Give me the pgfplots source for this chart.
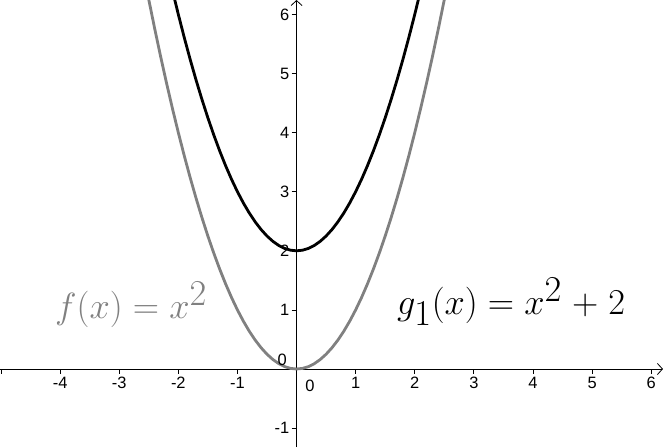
\documentclass[border=0pt]{standalone}
\usepackage{pgfplots}
\pgfplotsset{compat=1.18}
\usepackage{fontspec}
\setmainfont{Liberation Sans}
\usetikzlibrary{arrows.meta}
\definecolor{fgray}{RGB}{128,128,128}
\newcommand{\tlfont}{\fontsize{16.5}{18}\selectfont}
\begin{document}
\begin{tikzpicture}
\begin{axis}[
  scale only axis,
  width=663bp, height=447bp,
  xmin=-5.017, xmax=6.20, ymin=-1.32, ymax=6.244,
  axis lines=middle,
  axis line style={line width=0.8bp, -{Straight Barb[length=5bp,width=11bp,line width=0.8bp]}},
  tick style={line width=0.8bp, black},
  major tick length=5bp,
  tick align=outside,
  xtick={-5,-4,-3,-2,-1,1,2,3,4,5,6},
  xticklabels={,-4,-3,-2,-1,1,2,3,4,5,6},
  ytick={-1,1,2,3,4,5,6},
  yticklabels={-1,1,2,3,4,5,6},
  ticklabel style={font=\tlfont},
  xticklabel style={anchor=north, inner sep=0pt, yshift=-3bp},
  yticklabel style={anchor=east, inner sep=0pt, xshift=-2bp},
  /pgf/number format/assume math mode=true,
  clip=true,
]
\coordinate (sw) at (rel axis cs:0,0);
\coordinate (ne) at (rel axis cs:1,1);
\addplot[fgray, line width=2.8bp, line join=round] coordinates {
(-2.6,6.76) (-2.5,6.25) (-2.4,5.76) (-2.3,5.29) (-2.2,4.84) (-2.1,4.41) (-2.0,4.00)
(-1.9,3.61) (-1.8,3.24) (-1.7,2.89) (-1.6,2.56) (-1.5,2.25) (-1.4,1.96)
(-1.3,1.69) (-1.2,1.44) (-1.1,1.21) (-1.0,1.00) (-0.9,0.81) (-0.8,0.64)
(-0.7,0.49) (-0.6,0.36) (-0.5,0.25) (-0.4,0.16) (-0.3,0.09) (-0.2,0.04)
(-0.1,0.01) (0,0) (0.1,0.01) (0.2,0.04) (0.3,0.09) (0.4,0.16) (0.5,0.25)
(0.6,0.36) (0.7,0.49) (0.8,0.64) (0.9,0.81) (1.0,1.00) (1.1,1.21) (1.2,1.44)
(1.3,1.69) (1.4,1.96) (1.5,2.25) (1.6,2.56) (1.7,2.89) (1.8,3.24) (1.9,3.61)
(2.0,4.00) (2.1,4.41) (2.2,4.84) (2.3,5.29) (2.4,5.76) (2.5,6.25) (2.6,6.76)
};
\addplot[black, line width=2.8bp, line join=round] coordinates {
(-2.2,6.84) (-2.1,6.41) (-2.0,6.00)
(-1.9,5.61) (-1.8,5.24) (-1.7,4.89) (-1.6,4.56) (-1.5,4.25) (-1.4,3.96)
(-1.3,3.69) (-1.2,3.44) (-1.1,3.21) (-1.0,3.00) (-0.9,2.81) (-0.8,2.64)
(-0.7,2.49) (-0.6,2.36) (-0.5,2.25) (-0.4,2.16) (-0.3,2.09) (-0.2,2.04)
(-0.1,2.01) (0,2) (0.1,2.01) (0.2,2.04) (0.3,2.09) (0.4,2.16) (0.5,2.25)
(0.6,2.36) (0.7,2.49) (0.8,2.64) (0.9,2.81) (1.0,3.00) (1.1,3.21) (1.2,3.44)
(1.3,3.69) (1.4,3.96) (1.5,4.25) (1.6,4.56) (1.7,4.89) (1.8,5.24) (1.9,5.61)
(2.0,6.00) (2.1,6.41) (2.2,6.84)
};
\node[font=\tlfont, anchor=north west, inner sep=0pt] at (axis cs:0.144,-0.186) {0};
\node[font=\tlfont, anchor=south east, inner sep=0pt] at (axis cs:-0.16,0.05) {0};
\node[fgray, font=\fontsize{34}{40}\selectfont, anchor=base west, inner sep=0pt] at (axis cs:-4.086,0.854)
  {\scalebox{1.47}{$f(x)=x^2$}};
\node[black, font=\fontsize{34}{40}\selectfont, anchor=base west, inner sep=0pt] at (axis cs:1.70,0.922)
  {\scalebox{1.47}{$\medmuskip=5mu g_1(x)=x^2+2$}};
\end{axis}
\pgfresetboundingbox
\path[use as bounding box] (sw) rectangle (ne);
\end{tikzpicture}
\end{document}
